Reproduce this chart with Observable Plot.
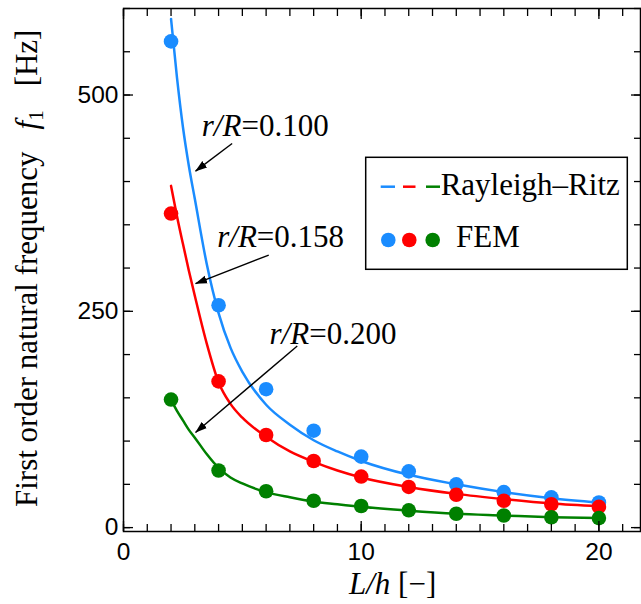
<!DOCTYPE html>
<html>
<head>
<meta charset="utf-8">
<script src="https://cdn.jsdelivr.net/npm/d3@7"></script>
<script src="https://cdn.jsdelivr.net/npm/@observablehq/plot@0.6"></script>
<style>
html, body { margin: 0; padding: 0; background: #fff; }
#chart { width: 641px; height: 604px; }
svg { display: block; }
</style>
</head>
<body>
<div id="chart"></div>
<script>
// ---- data ----
const lhCurve = [2, 2.25, 2.5, 2.75, 3, 3.5, 4, 4.5, 5, 6, 7, 8, 9, 10, 12, 14, 16, 18, 20];
const rr100 = [588, 520, 463, 418, 380, 305, 248, 208, 180, 142, 119, 101, 88, 77, 61, 50, 41, 34, 29];
const rr158 = [395, 360, 328, 297, 268, 213, 168, 143, 127, 105, 88, 76, 66, 58, 47, 39, 33, 28, 25];
const rr200 = [148, 135, 124, 113, 104, 85, 69, 58, 51, 41, 35, 30, 27, 24, 19.5, 16, 14, 12, 11];

const lhFem = [2, 4, 6, 8, 10, 12, 14, 16, 18, 20];
const fem100 = [562, 257, 160, 112, 82, 65, 50, 41, 35, 29];
const fem158 = [363, 169, 107, 77, 59, 47, 38, 31, 27, 24];
const fem200 = [148, 66, 42, 31, 25, 20, 16, 14, 12, 11];

const seriesNames = ["0.100", "0.158", "0.200"];
const seriesColors = ["#1a8cff", "#ff0000", "#008000"];

const xMinorTicks = d3.range(0, 22, 1);
const xMajorTicks = [0, 10, 20];
const yMinorTicks = d3.range(0, 601, 50);
const yMajorTicks = [0, 250, 500];

// annotations: label position (data units) and arrow from/to
const annoLabel = ["0.100", "0.158", "0.200"];
const annoX = [4.96, 5.61, 7.81];
const annoY = [453, 324, 212];
const arrowX1 = [4.57, 6.11, 7.31];
const arrowY1 = [444, 315, 210];
const arrowX2 = [3.03, 3.03, 3.03];
const arrowY2 = [412, 282, 110];

// ---- build tables ----
const curves = [rr100, rr158, rr200].map(vals => lhCurve.map((lh, i) => ({lh, f: vals[i]})));
const fems = [fem100, fem158, fem200].map(vals => lhFem.map((lh, i) => ({lh, f: vals[i]})));
const annos = annoLabel.map((label, i) => ({label, x: annoX[i], y: annoY[i]}));
const arrows = annoLabel.map((label, i) => ({x1: arrowX1[i], y1: arrowY1[i], x2: arrowX2[i], y2: arrowY2[i]}));

const serif = "'Liberation Serif', 'Times New Roman', serif";
const sans = "'Liberation Sans', Arial, Helvetica, sans-serif";
const tickW = 1.3;

const marks = [];
curves.forEach((c, i) => marks.push(Plot.line(c, {x: "lh", y: "f", stroke: seriesColors[i], strokeWidth: 2.5, curve: "monotone-x"})));
fems.forEach((c, i) => marks.push(Plot.dot(c, {x: "lh", y: "f", r: 7.3, fill: seriesColors[i], stroke: "none"})));

// inward ticks
marks.push(
  Plot.axisX(xMinorTicks, {anchor: "bottom", tickSize: 7, dy: -7, fill: "none", stroke: "black", strokeWidth: tickW, label: null}),
  Plot.axisX(xMajorTicks, {anchor: "bottom", tickSize: 10, dy: -10, fill: "none", stroke: "black", strokeWidth: tickW, label: null}),
  Plot.axisX(xMinorTicks, {anchor: "top", tickSize: 7, dy: 7, fill: "none", stroke: "black", strokeWidth: tickW, label: null}),
  Plot.axisX(xMajorTicks, {anchor: "top", tickSize: 10, dy: 10, fill: "none", stroke: "black", strokeWidth: tickW, label: null}),
  Plot.axisY(yMinorTicks, {anchor: "left", tickSize: 7, dx: 7, fill: "none", stroke: "black", strokeWidth: tickW, label: null}),
  Plot.axisY(yMajorTicks, {anchor: "left", tickSize: 10, dx: 10, fill: "none", stroke: "black", strokeWidth: tickW, label: null}),
  Plot.axisY(yMinorTicks, {anchor: "right", tickSize: 7, dx: -7, fill: "none", stroke: "black", strokeWidth: tickW, label: null}),
  Plot.axisY(yMajorTicks, {anchor: "right", tickSize: 10, dx: -10, fill: "none", stroke: "black", strokeWidth: tickW, label: null}),
  // tick labels
  Plot.axisX(xMajorTicks, {anchor: "bottom", tickSize: 0, tickPadding: 11, fill: "black", label: null, fontSize: 24.5, fontFamily: sans}),
  Plot.axisY(yMajorTicks, {anchor: "left", tickSize: 0, tickPadding: 5, fill: "black", label: null, fontSize: 24.5, fontFamily: sans})
);

// annotations
marks.push(
  Plot.link(arrows, {x1: "x1", y1: "y1", x2: "x2", y2: "y2", stroke: "black", strokeWidth: 1.4}),
  Plot.text(annos, {x: "x", y: "y", text: () => "r/R", textAnchor: "end", lineAnchor: "bottom", fontFamily: serif, fontStyle: "italic", fontSize: 31, fill: "black"}),
  Plot.text(annos, {x: "x", y: "y", text: d => "=" + d.label, textAnchor: "start", lineAnchor: "bottom", fontFamily: serif, fontSize: 31, fill: "black"}),
  Plot.frame({stroke: "black", strokeWidth: 1.5})
);

const plot = Plot.plot({
  width: 641,
  height: 604,
  marginLeft: 123,
  marginRight: 1,
  marginTop: 8,
  marginBottom: 73,
  style: {fontFamily: sans, fontSize: "24.5px", background: "white", color: "black", overflow: "visible"},
  x: {domain: [0, 21.75], axis: null},
  y: {domain: [-4.5, 600], axis: null},
  marks
});
document.getElementById("chart").appendChild(plot);

// ---- post-processing: arrowheads, axis titles, legend ----
const svg = d3.select(plot);
const defs = svg.append("defs");
defs.append("marker")
  .attr("id", "ahead").attr("viewBox", "0 -5 12 10").attr("refX", 11.5).attr("refY", 0)
  .attr("markerWidth", 12).attr("markerHeight", 10).attr("markerUnits", "userSpaceOnUse").attr("orient", "auto")
  .append("path").attr("d", "M0,-4L12,0L0,4Z").attr("fill", "black");
svg.selectAll('g[aria-label="link"] path').attr("marker-end", "url(#ahead)");

// x axis title
const xt = svg.append("text").attr("x", 349).attr("y", 594).attr("text-anchor", "start")
  .attr("font-family", serif).attr("font-size", 31).attr("fill", "black");
xt.append("tspan").attr("font-style", "italic").text("L/h");
xt.append("tspan").text(" [\u2212]");

// y axis title
const yt = svg.append("text").attr("transform", "translate(37,507) rotate(-90)").attr("text-anchor", "start")
  .attr("font-family", serif).attr("font-size", 31).attr("fill", "black");
yt.append("tspan").text("First order natural frequency");
yt.append("tspan").attr("dx", 22).attr("font-style", "italic").text("f");
yt.append("tspan").attr("dy", 6).attr("font-size", 21).text("1");
yt.append("tspan").attr("dy", -6).attr("dx", 24).text("[Hz]");

// legend
const lg = svg.append("g").attr("text-anchor", "start");
lg.append("rect").attr("x", 365.7).attr("y", 157.3).attr("width", 261.6).attr("height", 112)
  .attr("fill", "white").attr("stroke", "black").attr("stroke-width", 1.5);
const dashX = [[380.7, 395], [403, 415.5], [426, 440]];
dashX.forEach(([a, b], i) => lg.append("line").attr("x1", a).attr("x2", b).attr("y1", 186.7).attr("y2", 186.7)
  .attr("stroke", seriesColors[i]).attr("stroke-width", 2.5));
lg.append("text").attr("x", 440.7).attr("y", 195).attr("font-family", serif).attr("font-size", 31).attr("fill", "black")
  .text("Rayleigh\u2013Ritz");
const dotX = [388.3, 409.3, 432.7];
dotX.forEach((cx, i) => lg.append("circle").attr("cx", cx).attr("cy", 240).attr("r", 7.3).attr("fill", seriesColors[i]));
lg.append("text").attr("x", 456).attr("y", 246.7).attr("font-family", serif).attr("font-size", 31).attr("fill", "black")
  .text("FEM");
</script>
</body>
</html>
